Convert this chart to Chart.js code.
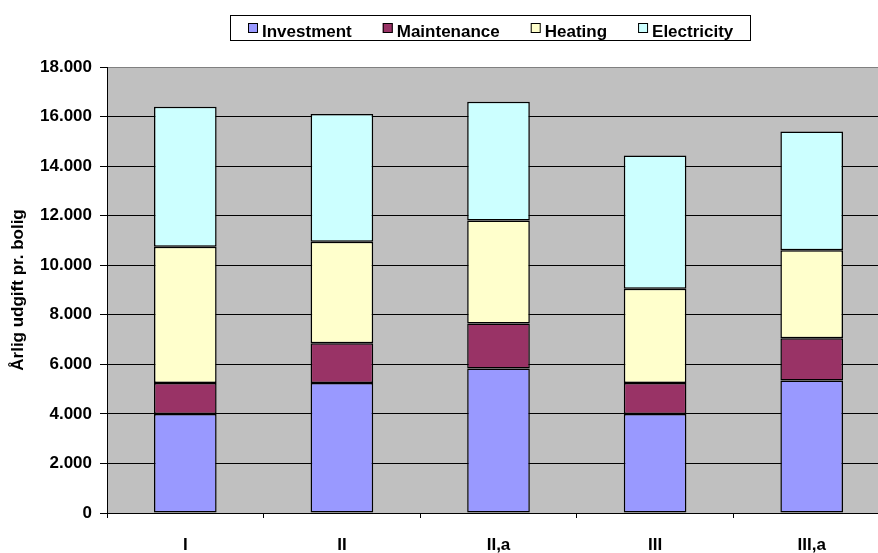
<!DOCTYPE html>
<html>
<head>
<meta charset="utf-8">
<script src="https://cdn.jsdelivr.net/npm/chart.js@4/dist/chart.umd.min.js"></script>
<style>
  html, body { margin: 0; padding: 0; background: #ffffff; overflow: hidden; }
  #wrap { width: 878px; height: 553px; overflow: hidden; }
  canvas { display: block; }
</style>
</head>
<body>
<div id="wrap"><canvas id="chart" width="890" height="553"></canvas></div>
<script>
// Annual cost per dwelling, split by cost type, for each scenario
const categories = ['I', 'II', 'II,a', 'III', 'III,a'];
const investment  = [4000, 5250, 5830, 4000, 5350];
const maintenance = [1250, 1600, 1820, 1250, 1700];
const heating     = [5500, 4100, 4150, 3800, 3550];
const electricity = [5650, 5150, 4800, 5380, 4800];
const seriesNames = ['Investment', 'Maintenance', 'Heating', 'Electricity'];
const yTickValues = [0, 2000, 4000, 6000, 8000, 10000, 12000, 14000, 16000, 18000];
const yAxisTitle = 'Årlig udgift pr. bolig';

const FONT = { family: '"Liberation Sans", Arial, sans-serif', size: 17, weight: 'bold' };

// Thousands separated by a period: 18000 -> "18.000"
function formatThousands(v) {
  return String(Math.round(v)).replace(/\B(?=(\d{3})+(?!\d))/g, '.');
}

// Grey plotting area behind the bars
const plotBackground = {
  id: 'plotBackground',
  beforeDraw(chart) {
    const { ctx, chartArea: a } = chart;
    ctx.save();
    ctx.fillStyle = '#C0C0C0';
    ctx.fillRect(a.left, a.top, a.right - a.left, a.bottom - a.top);
    ctx.restore();
  }
};

// Legend in a framed box above the plot, built from the datasets
const boxedLegend = {
  id: 'boxedLegend',
  afterDraw(chart) {
    const { ctx } = chart;
    const box = { left: 230.5, top: 15.5, right: 750.5, bottom: 40.5 };
    const sq = 10, gapText = 4, gapItem = 31;
    ctx.save();
    ctx.font = `${FONT.weight} ${FONT.size}px ${FONT.family}`;
    const items = chart.data.datasets.map(ds => ({
      text: ds.label, color: ds.backgroundColor, w: ctx.measureText(ds.label).width
    }));
    const total = items.reduce((s, it) => s + sq + gapText + it.w, 0) + gapItem * (items.length - 1);
    let x = Math.round((box.left + box.right) / 2 - total / 2);
    ctx.strokeStyle = '#000000';
    ctx.lineWidth = 1;
    ctx.strokeRect(box.left, box.top, box.right - box.left, box.bottom - box.top);
    ctx.textBaseline = 'alphabetic';
    ctx.textAlign = 'left';
    items.forEach(it => {
      ctx.fillStyle = it.color;
      ctx.fillRect(x, 23, sq, sq);
      ctx.strokeStyle = '#000000';
      ctx.strokeRect(x + 0.5, 23.5, sq - 1, sq - 1);
      ctx.fillStyle = '#000000';
      ctx.fillText(it.text, x + sq + gapText, 36.5);
      x += sq + gapText + it.w + gapItem;
    });
    ctx.restore();
  }
};

const colors = ['#9999FF', '#993366', '#FFFFCC', '#CCFFFF'];
const values = [investment, maintenance, heating, electricity];

new Chart(document.getElementById('chart'), {
  type: 'bar',
  data: {
    labels: categories,
    datasets: seriesNames.map((name, i) => ({
      label: name,
      data: values[i],
      backgroundColor: colors[i],
      borderColor: '#000000',
      borderWidth: 1.5,
      borderSkipped: false,
      barPercentage: 0.4,
      categoryPercentage: 1.0
    }))
  },
  options: {
    responsive: false,
    devicePixelRatio: 1,
    animation: false,
    layout: { padding: { top: 67, right: 0, bottom: 0, left: 0 } },
    plugins: {
      legend: { display: false },
      tooltip: { enabled: false }
    },
    scales: {
      x: {
        stacked: true,
        offset: true,
        grid: {
          offset: true,
          drawOnChartArea: false,
          drawTicks: true,
          tickLength: 5,
          color: '#000000',
          lineWidth: 1
        },
        border: { display: true, color: '#000000', width: 1 },
        ticks: { color: '#000000', font: FONT, padding: 17, maxRotation: 0 },
        afterFit(scale) { scale.height = 40; }
      },
      y: {
        stacked: true,
        min: 0,
        max: 18000,
        afterBuildTicks(scale) { scale.ticks = yTickValues.map(v => ({ value: v })); },
        grid: {
          color: ctx => (ctx.tick && ctx.tick.value === 18000 ? '#808080' : '#000000'),
          tickColor: '#000000',
          lineWidth: 1,
          tickLength: 7
        },
        border: { display: true, color: '#000000', width: 1 },
        ticks: {
          color: '#000000',
          font: FONT,
          padding: 8,
          callback: v => formatThousands(v)
        },
        title: {
          display: true,
          text: yAxisTitle,
          color: '#000000',
          font: FONT,
          padding: { top: 8, bottom: 0 }
        },
        afterFit(scale) { scale.width = 107; }
      }
    }
  },
  plugins: [plotBackground, boxedLegend]
});
</script>
</body>
</html>
